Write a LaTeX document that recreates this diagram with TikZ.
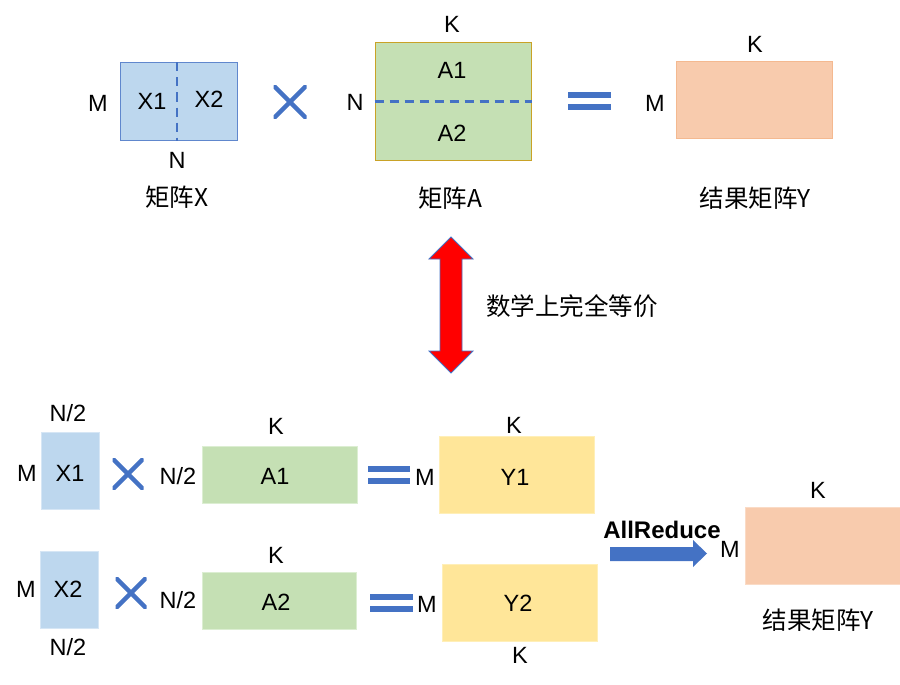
\documentclass[tikz,border=0pt]{standalone}
\usepackage{fontspec}
\setmainfont{Liberation Sans}
\newfontfamily\cjk{Noto Sans CJK SC}
\definecolor{xblue}{HTML}{BDD7EE}
\definecolor{xbluel}{HTML}{D6E6F5}
\definecolor{lineblue}{HTML}{4472C4}
\definecolor{agreen}{HTML}{C5E0B4}
\definecolor{agreenl}{HTML}{DCEED2}
\definecolor{agold}{HTML}{C9A227}
\definecolor{yyellow}{HTML}{FFE699}
\definecolor{yyellowl}{HTML}{FFEFB8}
\definecolor{rorange}{HTML}{F8CBAD}
\definecolor{rorangeb}{HTML}{F4B990}
\definecolor{rorangel}{HTML}{FADBC6}
\tikzset{
  mat/.style={rectangle, inner sep=0pt, line width=1pt},
  lbl/.style={inner sep=0pt, font=\fontsize{23.5}{27}\selectfont},
  cjklbl/.style={inner sep=0pt, font=\cjk\fontsize{24.5}{28}\selectfont},
  timesmark/.style={inner sep=0pt, minimum size=33pt, path picture={
      \draw[lineblue, line width=4.5pt]
        (path picture bounding box.north west) -- (path picture bounding box.south east)
        (path picture bounding box.south west) -- (path picture bounding box.north east);}},
  eqmark/.style={inner sep=0pt, minimum width=43pt, minimum height=18pt, path picture={
      \fill[lineblue] ([yshift=0pt]path picture bounding box.north west) rectangle ([yshift=-6pt]path picture bounding box.north east);
      \fill[lineblue] ([yshift=6pt]path picture bounding box.south west) rectangle (path picture bounding box.south east);}},
  splitline/.style={lineblue, line width=2.2pt, dash pattern=on 9pt off 6pt},
}
\begin{document}
\begin{tikzpicture}[x=1pt,y=-1pt]
\useasboundingbox (0,0) rectangle (900,685);

% ---------- top row ----------
\node[mat, fill=xblue, draw=lineblue!85, minimum width=117pt, minimum height=77pt] (X) at (178.5,101.5) {};
\draw[splitline] (X.north) ++(-1.5,0) coordinate (xs1) -- (X.south -| xs1);
\node[lbl] (X1t) at (152,101) {X1};
\node[lbl] (X2t) at (209,99) {X2};
\node[lbl] (Mx) at (98,103) {M};
\node[lbl] (Nx) at (177,160) {N};
\node[cjklbl] (capX) at (177,197) {矩阵X};

\node[timesmark] (times0) at (290,102) {};

\node[mat, fill=agreen, draw=agold, minimum width=156pt, minimum height=117pt] (A) at (453,101.5) {};
\draw[splitline] (A.west) -- (A.east);
\node[lbl] (A1t) at (452,70) {A1};
\node[lbl] (A2t) at (452,133) {A2};
\node[lbl] (Ka) at (452,24) {K};
\node[lbl] (Na) at (355,102) {N};
\node[cjklbl] (capA) at (450,198) {矩阵A};

\node[eqmark] (eq0) at (589.5,101) {};

\node[mat, fill=rorange, draw=rorangeb, minimum width=156pt, minimum height=76pt] (Y) at (754,100) {};
\node[lbl] (Ky) at (755,44) {K};
\node[lbl] (My) at (655,103) {M};
\node[cjklbl] (capY) at (755,198) {结果矩阵Y};

% ---------- equivalence arrow ----------
\draw[fill=red, draw=lineblue, line width=0.8pt]
  (451,237) -- (473,259) -- (462,259) -- (462,351) -- (473,351) -- (451,373)
  -- (429,351) -- (440,351) -- (440,259) -- (429,259) -- cycle;
\node[cjklbl, anchor=west] (equiv) at (486,306) {数学上完全等价};

% ---------- bottom row 1 ----------
\node[mat, fill=xblue, draw=xbluel, minimum width=58pt, minimum height=77pt] (Xb1) at (70,470.5) {};
\node[lbl] (Xb1t) at (70,473) {X1};
\node[lbl] (Mb1) at (27,473) {M};
\node[lbl] (Nb1) at (68,413) {N/2};
\node[timesmark, minimum size=31pt] (times1) at (128,474) {};
\node[lbl] (Nab1) at (178,476) {N/2};
\node[mat, fill=agreen, draw=agreenl, minimum width=155pt, minimum height=57pt] (Ab1) at (279.5,474.5) {};
\node[lbl] (Ab1t) at (275,476) {A1};
\node[lbl] (Kab1) at (276,426) {K};
\node[eqmark, minimum width=42pt] (eq1) at (389,475) {};
\node[lbl] (Myb1) at (425,477) {M};
\node[mat, fill=yyellow, draw=yyellowl, minimum width=155pt, minimum height=77pt] (Yb1) at (516.5,474.5) {};
\node[lbl] (Yb1t) at (515,477) {Y1};
\node[lbl] (Kyb1) at (514,425) {K};

% ---------- bottom row 2 ----------
\node[mat, fill=xblue, draw=xbluel, minimum width=58pt, minimum height=77pt] (Xb2) at (69,589.5) {};
\node[lbl] (Xb2t) at (68,589) {X2};
\node[lbl] (Mb2) at (26,589) {M};
\node[lbl] (Nb2) at (68,647) {N/2};
\node[timesmark, minimum size=31pt] (times2) at (131,593) {};
\node[lbl] (Nab2) at (178,600) {N/2};
\node[mat, fill=agreen, draw=agreenl, minimum width=154pt, minimum height=57pt] (Ab2) at (279,600.5) {};
\node[lbl] (Ab2t) at (276,602) {A2};
\node[lbl] (Kab2) at (276,555) {K};
\node[eqmark, minimum width=43pt] (eq2) at (391.5,603) {};
\node[lbl] (Myb2) at (427,604) {M};
\node[mat, fill=yyellow, draw=yyellowl, minimum width=155pt, minimum height=77pt] (Yb2) at (519.5,602.5) {};
\node[lbl] (Yb2t) at (518,603) {Y2};
\node[lbl] (Kyb2) at (520,655) {K};

% ---------- AllReduce ----------
\fill[lineblue] (610,547) -- (693,547) -- (693,540) -- (707,553.5) -- (693,567) -- (693,561) -- (610,561) -- cycle;
\node[inner sep=0pt, font=\bfseries\fontsize{24}{28}\selectfont] (allr) at (662,530) {AllReduce};
\node[lbl] (Mr) at (730,549) {M};
\node[mat, fill=rorange, draw=rorangel, minimum width=155pt, minimum height=77pt] (Yr) at (822.5,545.5) {};
\node[lbl] (Kr) at (818,490) {K};
\node[cjklbl] (capYr) at (818,620) {结果矩阵Y};
\end{tikzpicture}
\end{document}
